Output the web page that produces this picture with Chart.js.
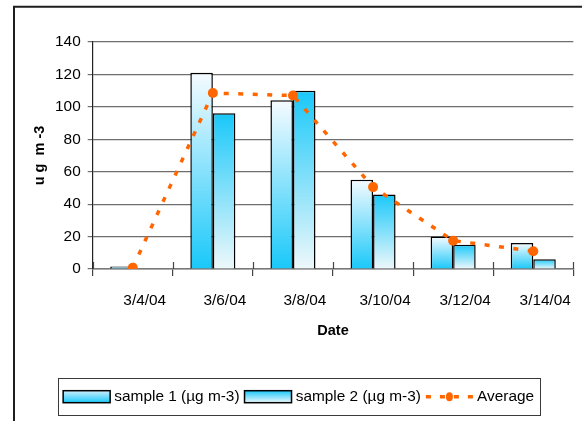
<!DOCTYPE html>
<html><head><meta charset="utf-8">
<script src="https://cdn.jsdelivr.net/npm/chart.js@4/dist/chart.umd.min.js"></script>
<style>html,body{margin:0;padding:0;background:#fff;}#wrap{width:582px;height:421px;}</style>
</head><body><div id="wrap"><canvas id="c" width="582" height="421"></canvas></div>
<script>
const categories = ['3/4/04', '3/6/04', '3/8/04', '3/10/04', '3/12/04', '3/14/04'];
const sample1 = [1.5, 121, 104, 55, 20, 16];
const sample2 = [null, 96, 110, 46, 15, 6];
const average = [0.8, 108.5, 107, 50.5, 17.5, 11];
const seriesNames = ['sample 1 (\u00b5g m-3)', 'sample 2 (\u00b5g m-3)', 'Average'];
const yMin = 0, yMax = 140, yStep = 20;
const xTitle = 'Date';
const yTitle = 'u g  m -3';

const FONT = "'Liberation Sans', Arial, sans-serif";
const CYAN = '#19C8F9', PALE = '#F6FBFF', PALE2 = '#EEF8FB', ORANGE = '#FF6600';

function vGrad(chart, top, bottom, c0, c1) {
  const g = chart.ctx.createLinearGradient(0, top, 0, bottom);
  g.addColorStop(0, c0); g.addColorStop(1, c1);
  return g;
}
function barFill(c0, c1) {
  return function (ctx) {
    const chart = ctx.chart, y = chart.scales && chart.scales.y;
    if (!y || ctx.type !== 'data' || ctx.raw == null) return c1;
    const top = y.getPixelForValue(ctx.raw), base = y.getPixelForValue(0);
    if (!isFinite(top) || !isFinite(base) || Math.abs(base - top) < 0.5) return c1;
    return vGrad(chart, top, base, c0, c1);
  };
}

const decor = {
  id: 'decor',
  beforeDraw(chart) {
    const c = chart.ctx;
    c.save();
    c.fillStyle = '#fff'; c.fillRect(0, 0, chart.width, chart.height);
    c.strokeStyle = '#1e1e1e'; c.lineWidth = 2;
    c.beginPath(); c.moveTo(14, chart.height); c.lineTo(14, 6.7); c.lineTo(chart.width, 6.7); c.stroke();
    c.restore();
  },
  afterDraw(chart) {
    const c = chart.ctx, xs = chart.scales.x, area = chart.chartArea;
    c.save();
    c.strokeStyle = '#444'; c.lineWidth = 1.2;
    const n = categories.length;
    for (let i = 0; i <= n; i++) {
      const x = Math.round(xs.left + i * xs.width / n) + 0.5;
      c.beginPath(); c.moveTo(x, area.bottom - 7); c.lineTo(x, area.bottom); c.stroke();
    }
    const lg = chart.legend, hbs = lg.legendHitBoxes, items = lg.legendItems;
    if (hbs && hbs.length) {
      let minL = Infinity, maxR = -Infinity;
      hbs.forEach(h => { minL = Math.min(minL, h.left); maxR = Math.max(maxR, h.left + h.width); });
      const cy = hbs[0].top + hbs[0].height / 2;
      c.strokeStyle = '#3a3a3a'; c.lineWidth = 1;
      c.strokeRect(Math.round(minL - 5) + 0.5, Math.round(cy - 18.5) + 0.5, Math.round(maxR - minL + 11), 37);
      hbs.forEach((h, i) => {
        const ds = items[i].datasetIndex;
        const x0 = h.left, w = 47, sy = cy - 6;
        if (ds === 0 || ds === 1) {
          c.fillStyle = ds === 0 ? vGrad(chart, sy, sy + 12, '#CDEFFD', CYAN) : vGrad(chart, sy, sy + 12, CYAN, PALE2);
          c.fillRect(x0, sy, w, 12);
          c.strokeStyle = '#000'; c.lineWidth = 1.5;
          c.strokeRect(x0, sy, w, 12);
        } else {
          c.strokeStyle = ORANGE; c.lineWidth = 3.5; c.setLineDash([5, 9]);
          c.beginPath(); c.moveTo(x0, cy); c.lineTo(x0 + w, cy); c.stroke();
          c.setLineDash([]);
          c.fillStyle = ORANGE;
          c.beginPath(); c.ellipse(x0 + w / 2, cy, 3.5, 4.5, 0, 0, Math.PI * 2); c.fill();
        }
      });
    }
    c.restore();
  }
};

new Chart(document.getElementById('c'), {
  type: 'bar',
  data: {
    labels: categories,
    datasets: [
      {
        type: 'bar', label: seriesNames[0], data: sample1, order: 0,
        backgroundColor: barFill(PALE, CYAN), borderColor: '#000', borderWidth: 1.5,
        categoryPercentage: 0.5625, barPercentage: 1
      },
      {
        type: 'bar', label: seriesNames[1], data: sample2, order: 0,
        backgroundColor: barFill(CYAN, PALE2), borderColor: '#000', borderWidth: 1.5,
        categoryPercentage: 0.5625, barPercentage: 1
      },
      {
        type: 'line', label: seriesNames[2], data: average, order: -1,
        borderColor: ORANGE, borderWidth: 3.5, borderDash: [5, 9.5], tension: 0, fill: false,
        pointRadius: 5, pointBackgroundColor: ORANGE, pointBorderColor: ORANGE, pointBorderWidth: 0,
        pointStyle: 'circle'
      }
    ]
  },
  options: {
    responsive: false, animation: false, devicePixelRatio: 1,
    layout: { padding: { left: 24, top: 42, right: 8.7, bottom: 6.6 } },
    plugins: {
      tooltip: { enabled: false },
      legend: {
        position: 'bottom',
        labels: {
          font: { family: FONT, size: 15.4 }, color: '#000',
          boxWidth: 43.5, boxHeight: 12, padding: 5,
          sort: (a, b) => a.datasetIndex - b.datasetIndex,
          generateLabels(chart) {
            const items = Chart.defaults.plugins.legend.labels.generateLabels(chart);
            return items.map(it => Object.assign(it, {
              fillStyle: 'rgba(0,0,0,0)', strokeStyle: 'rgba(0,0,0,0)', lineWidth: 0,
              lineDash: [], pointStyle: undefined
            }));
          }
        }
      }
    },
    scales: {
      x: {
        offset: true,
        grid: { display: true, drawOnChartArea: false, drawTicks: true, tickLength: 7, color: '#444', lineWidth: 1.2, offset: true },
        border: { display: true, color: '#7a7a7a', width: 1.5 },
        ticks: { font: { family: FONT, size: 15.4 }, color: '#000', padding: 15.5, labelOffset: 12, maxRotation: 0, autoSkip: false },
        title: { display: true, text: xTitle, font: { family: FONT, size: 14.5, weight: 'bold' }, color: '#000', padding: { top: 11.8, bottom: 44.8 } },
        afterFit(scale) { scale.height = 115; }
      },
      y: {
        min: yMin, max: yMax,
        grid: { color: '#6e6e6e', lineWidth: 1.2, tickLength: 5, drawTicks: true },
        border: { display: true, color: '#222', width: 1.2 },
        ticks: { stepSize: yStep, font: { family: FONT, size: 15.4 }, color: '#000', padding: 7 },
        title: { display: true, text: yTitle, font: { family: FONT, size: 14.5, weight: 'bold' }, color: '#000', padding: { top: 7.3, bottom: 4 } },
        afterFit(scale) { scale.width = 68.7; }
      }
    }
  },
  plugins: [decor]
});
</script>
</body></html>
